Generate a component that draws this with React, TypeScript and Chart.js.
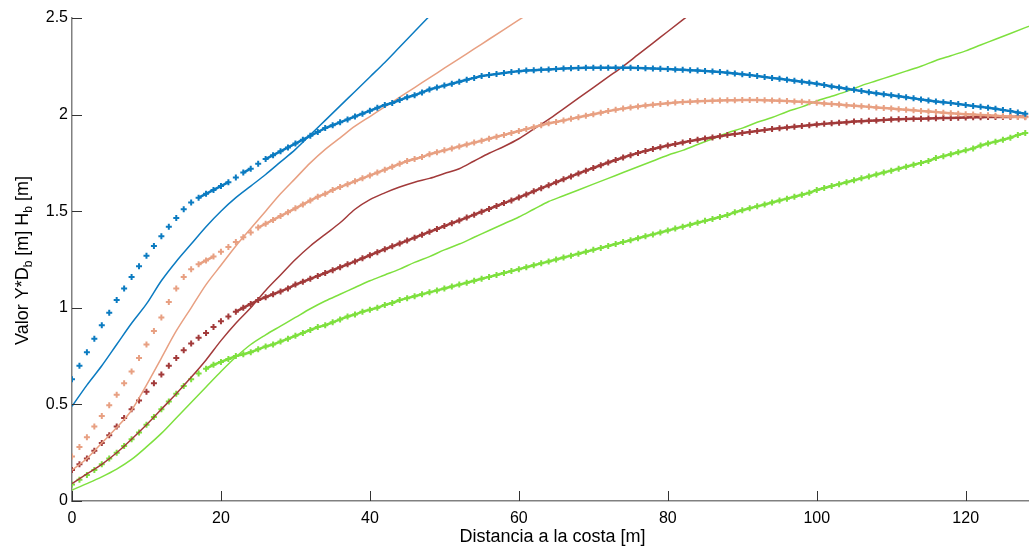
import React, { useEffect, useRef } from 'react';
import { Chart, registerables } from 'chart.js';

Chart.register(...registerables);

const FONT = '"Liberation Sans", Arial, sans-serif';

const X_TITLE = 'Distancia a la costa [m]';
const Y_TITLE_PARTS = [
  { t: 'Valor Y*D', sub: false },
  { t: 'b', sub: true },
  { t: ' [m] H', sub: false },
  { t: 'b', sub: true },
  { t: ' [m]', sub: false },
];

const X_TICKS = [0, 20, 40, 60, 80, 100, 120];
const Y_TICKS = [0, 0.5, 1, 1.5, 2, 2.5];

// sampling positions (m)
const X_1M = [0,1,2,3,4,5,6,7,8,9,10,11,12,13,14,15,16,17,18,19,20,21,22,23,24,25,26,27,28,29,30,31,32,33,34,35,36,37,38,39,40,41,42,43,44,45,46,47,48,49,50,51,52,53,54,55,56,57,58,59,60,61,62,63,64,65,66,67,68,69,70,71,72,73,74,75,76,77,78,79,80,81,82,83,84,85,86,87,88,89,90,91,92,93,94,95,96,97,98,99,100,101,102,103,104,105,106,107,108,109,110,111,112,113,114,115,116,117,118,119,120,121,122,123,124,125,126,127,128];
const X_2M = [0,2,4,6,8,10,12,14,16,18,20,22,24,26,28,30,32,34,36,38,40,42,44,46,48,50,52,54,56,58,60,62,64,66,68,70,72,74,76,78,80,82,84,86,88,90,92,94,96,98,100,102,104,106,108,110,112,114,116,118,120,122,124,126,128,130];

// solid lines (2 m step)
const BLUE_SOLID = [0.49,0.60,0.70,0.81,0.92,1.02,1.14,1.24,1.33,1.42,1.50,1.57,1.63,1.69,1.755,1.82,1.895,1.97,2.045,2.12,2.195,2.27,2.35,2.43,2.51];
const SALMON_SOLID = [0.16,0.22,0.30,0.38,0.47,0.60,0.74,0.88,1.00,1.12,1.22,1.32,1.41,1.50,1.59,1.67,1.75,1.82,1.88,1.94,1.99,2.04,2.09,2.14,2.19,2.24,2.29,2.34,2.39,2.44,2.49,2.54];
const RED_SOLID = [0.09,0.14,0.19,0.25,0.32,0.395,0.475,0.555,0.64,0.73,0.83,0.92,1.00,1.09,1.17,1.25,1.32,1.38,1.44,1.51,1.56,1.595,1.625,1.65,1.67,1.695,1.72,1.76,1.80,1.835,1.875,1.925,1.975,2.03,2.085,2.14,2.195,2.25,2.31,2.37,2.43,2.49,2.55];
const GREEN_SOLID = [0.057,0.09,0.125,0.165,0.215,0.28,0.35,0.43,0.51,0.59,0.67,0.745,0.81,0.86,0.905,0.95,0.995,1.035,1.07,1.105,1.14,1.17,1.20,1.235,1.265,1.30,1.33,1.365,1.40,1.435,1.47,1.51,1.55,1.58,1.61,1.64,1.67,1.70,1.73,1.76,1.79,1.815,1.845,1.875,1.905,1.93,1.96,1.985,2.015,2.04,2.07,2.095,2.12,2.15,2.175,2.20,2.225,2.25,2.28,2.305,2.33,2.36,2.39,2.42,2.45,2.48];

// marker series (1 m step)
const BLUE_MARK = [0.63,0.70,0.77,0.84,0.91,0.975,1.04,1.10,1.16,1.215,1.27,1.32,1.37,1.42,1.465,1.51,1.545,1.57,1.59,1.61,1.63,1.65,1.675,1.70,1.72,1.745,1.77,1.79,1.81,1.83,1.85,1.87,1.89,1.91,1.93,1.945,1.96,1.975,1.99,2.005,2.02,2.035,2.05,2.06,2.075,2.09,2.10,2.115,2.13,2.14,2.15,2.16,2.17,2.18,2.19,2.20,2.205,2.21,2.215,2.22,2.225,2.228,2.23,2.232,2.234,2.236,2.238,2.24,2.241,2.242,2.243,2.243,2.243,2.243,2.243,2.242,2.241,2.24,2.239,2.237,2.236,2.234,2.232,2.23,2.228,2.226,2.223,2.22,2.217,2.213,2.209,2.205,2.20,2.195,2.19,2.185,2.18,2.175,2.17,2.165,2.16,2.153,2.146,2.14,2.134,2.128,2.122,2.116,2.11,2.105,2.10,2.095,2.09,2.084,2.078,2.073,2.068,2.064,2.06,2.055,2.05,2.045,2.04,2.035,2.03,2.024,2.018,2.011,2.005];
const SALMON_MARK = [0.23,0.28,0.33,0.385,0.44,0.495,0.55,0.61,0.67,0.74,0.81,0.88,0.95,1.03,1.10,1.16,1.20,1.225,1.245,1.265,1.29,1.315,1.34,1.365,1.39,1.415,1.435,1.455,1.475,1.495,1.515,1.535,1.555,1.575,1.59,1.61,1.625,1.64,1.655,1.67,1.685,1.70,1.715,1.73,1.745,1.76,1.77,1.78,1.795,1.805,1.815,1.825,1.835,1.845,1.855,1.865,1.875,1.885,1.895,1.905,1.915,1.925,1.935,1.945,1.955,1.962,1.97,1.978,1.986,1.994,2.002,2.01,2.018,2.025,2.031,2.037,2.042,2.047,2.051,2.055,2.059,2.062,2.065,2.067,2.069,2.071,2.072,2.073,2.074,2.074,2.075,2.075,2.075,2.074,2.073,2.072,2.07,2.068,2.066,2.064,2.061,2.058,2.055,2.052,2.049,2.046,2.043,2.04,2.037,2.034,2.031,2.028,2.025,2.022,2.019,2.016,2.013,2.01,2.007,2.004,2.002,2.0,1.998,1.996,1.994,1.992,1.99,1.988,1.986];
const RED_MARK = [0.16,0.19,0.22,0.26,0.30,0.34,0.385,0.43,0.475,0.52,0.565,0.61,0.655,0.70,0.74,0.78,0.815,0.845,0.87,0.90,0.93,0.955,0.98,1.0,1.02,1.04,1.055,1.07,1.085,1.10,1.12,1.135,1.15,1.165,1.18,1.195,1.21,1.225,1.24,1.256,1.272,1.288,1.303,1.318,1.333,1.348,1.363,1.378,1.393,1.408,1.423,1.438,1.452,1.467,1.482,1.497,1.512,1.527,1.542,1.556,1.571,1.587,1.603,1.619,1.634,1.65,1.665,1.68,1.695,1.71,1.724,1.738,1.752,1.765,1.778,1.79,1.801,1.812,1.822,1.831,1.84,1.848,1.856,1.863,1.87,1.876,1.882,1.888,1.894,1.899,1.905,1.91,1.915,1.92,1.925,1.929,1.933,1.937,1.941,1.945,1.949,1.952,1.955,1.958,1.961,1.964,1.966,1.968,1.97,1.972,1.974,1.976,1.977,1.978,1.979,1.98,1.981,1.982,1.983,1.984,1.985,1.986,1.986,1.987,1.987,1.988,1.988,1.989,1.989];
const GREEN_MARK = [0.085,0.11,0.135,0.16,0.19,0.22,0.25,0.285,0.32,0.355,0.395,0.435,0.475,0.515,0.555,0.595,0.63,0.66,0.685,0.705,0.72,0.735,0.75,0.76,0.77,0.785,0.80,0.81,0.825,0.84,0.855,0.87,0.885,0.90,0.91,0.925,0.94,0.955,0.965,0.98,0.99,1.0,1.015,1.025,1.04,1.05,1.06,1.07,1.08,1.09,1.10,1.11,1.12,1.13,1.14,1.15,1.16,1.17,1.18,1.19,1.20,1.21,1.22,1.23,1.24,1.25,1.26,1.27,1.28,1.29,1.30,1.31,1.32,1.33,1.34,1.35,1.36,1.37,1.38,1.39,1.40,1.41,1.42,1.43,1.44,1.45,1.46,1.47,1.48,1.495,1.505,1.515,1.525,1.535,1.545,1.555,1.565,1.575,1.585,1.595,1.61,1.62,1.63,1.64,1.65,1.66,1.67,1.68,1.69,1.70,1.71,1.72,1.73,1.74,1.75,1.76,1.775,1.785,1.795,1.805,1.815,1.825,1.84,1.85,1.86,1.87,1.88,1.895,1.905];

const BLUE = '#0b7bc1';
const SALMON = '#e8a082';
const DARKRED = '#a23a3a';
const GREEN = '#7ee03e';

function zip(xs: number[], ys: number[]) {
  return ys.map((y, i) => ({ x: xs[i], y }));
}

function solid(label: string, ys: number[], color: string) {
  return {
    label,
    data: zip(X_2M, ys),
    borderColor: color,
    backgroundColor: color,
    borderWidth: 1.5,
    pointRadius: 0,
    fill: false,
    cubicInterpolationMode: 'monotone' as const,
  };
}

// '+' markers every metre; where the curve is flat the markers merge,
// so a thin underlay joins them there (steep parts stay dotted).
function marks(label: string, ys: number[], color: string) {
  return {
    label,
    data: zip(X_1M, ys),
    showLine: true,
    borderWidth: 2.5,
    borderColor: color,
    backgroundColor: color,
    segment: {
      borderColor: (c: any) =>
        Math.abs(c.p1.parsed.y - c.p0.parsed.y) > 0.022 ? 'rgba(0,0,0,0)' : color,
    },
    pointStyle: 'cross' as const,
    pointRadius: 3,
    pointBorderWidth: 2,
    pointBorderColor: color,
  };
}

const axisDecor = {
  id: 'axisDecor',
  afterDatasetsDraw(chart: any) {
    const { ctx, chartArea, scales } = chart;
    const xs = scales.x;
    const ys = scales.y;
    ctx.save();
    ctx.strokeStyle = '#333';
    ctx.lineWidth = 1;
    X_TICKS.forEach((v) => {
      const px = Math.round(xs.getPixelForValue(v)) + 0.5;
      ctx.beginPath();
      ctx.moveTo(px, chartArea.bottom);
      ctx.lineTo(px, chartArea.bottom - 10);
      ctx.stroke();
    });
    Y_TICKS.forEach((v) => {
      const py = Math.round(ys.getPixelForValue(v)) + 0.5;
      ctx.beginPath();
      ctx.moveTo(chartArea.left, py);
      ctx.lineTo(chartArea.left + 10, py);
      ctx.stroke();
    });

    // x title
    ctx.fillStyle = '#000';
    ctx.font = `18px ${FONT}`;
    ctx.textAlign = 'center';
    ctx.textBaseline = 'alphabetic';
    ctx.fillText(X_TITLE, (chartArea.left + chartArea.right) / 2 + 2, 542);

    // y title with subscripts
    const mainFont = `18px ${FONT}`;
    const subFont = `12px ${FONT}`;
    let total = 0;
    Y_TITLE_PARTS.forEach((p) => {
      ctx.font = p.sub ? subFont : mainFont;
      total += ctx.measureText(p.t).width;
    });
    ctx.translate(21, (chartArea.top + chartArea.bottom) / 2 + 1);
    ctx.rotate(-Math.PI / 2);
    ctx.textAlign = 'left';
    let cx = -total / 2;
    Y_TITLE_PARTS.forEach((p) => {
      ctx.font = p.sub ? subFont : mainFont;
      ctx.fillText(p.t, cx, p.sub ? 11 : 7);
      cx += ctx.measureText(p.t).width;
    });
    ctx.restore();
  },
};

export default function App() {
  const ref = useRef<HTMLCanvasElement>(null);
  useEffect(() => {
    if (!ref.current) return;
    const chart = new Chart(ref.current, {
      type: 'line',
      data: {
        datasets: [
          marks('Hb azul', BLUE_MARK, BLUE),
          solid('Y*Db azul', BLUE_SOLID, BLUE),
          marks('Hb salmón', SALMON_MARK, SALMON),
          solid('Y*Db salmón', SALMON_SOLID, SALMON),
          marks('Hb rojo', RED_MARK, DARKRED),
          solid('Y*Db rojo', RED_SOLID, DARKRED),
          marks('Hb verde', GREEN_MARK, GREEN),
          solid('Y*Db verde', GREEN_SOLID, GREEN),
        ] as any,
      },
      options: {
        responsive: false,
        animation: false,
        events: [],
        layout: { autoPadding: false, padding: { top: 18, right: 0, left: 0, bottom: 0 } },
        plugins: { legend: { display: false }, tooltip: { enabled: false } },
        scales: {
          x: {
            type: 'linear',
            min: 0,
            max: 128.5,
            afterFit: (s: any) => { s.height = 46; },
            afterBuildTicks: (s: any) => { s.ticks = X_TICKS.map((v) => ({ value: v })); },
            ticks: {
              padding: 8,
              color: '#000',
              font: { size: 16, family: FONT },
              maxRotation: 0,
              autoSkip: false,
              callback: (v: any) => String(v),
            },
            grid: { display: false, drawTicks: false },
            border: { display: true, color: '#808080', width: 1.5 },
          },
          y: {
            type: 'linear',
            min: 0,
            max: 2.5,
            afterFit: (s: any) => { s.width = 72; },
            afterBuildTicks: (s: any) => { s.ticks = Y_TICKS.map((v) => ({ value: v })); },
            ticks: {
              padding: 4,
              color: '#000',
              font: { size: 16, family: FONT },
              callback: (v: any) => String(v),
            },
            grid: { display: false, drawTicks: false },
            border: { display: true, color: '#808080', width: 1.5 },
          },
        },
      } as any,
      plugins: [axisDecor],
    });
    return () => chart.destroy();
  }, []);
  return (
    <div style={{ position: 'absolute', left: 0, top: 0, width: 1029, height: 547, background: '#fff' }}>
      <canvas ref={ref} width={1029} height={547} style={{ display: 'block' }} />
    </div>
  );
}
